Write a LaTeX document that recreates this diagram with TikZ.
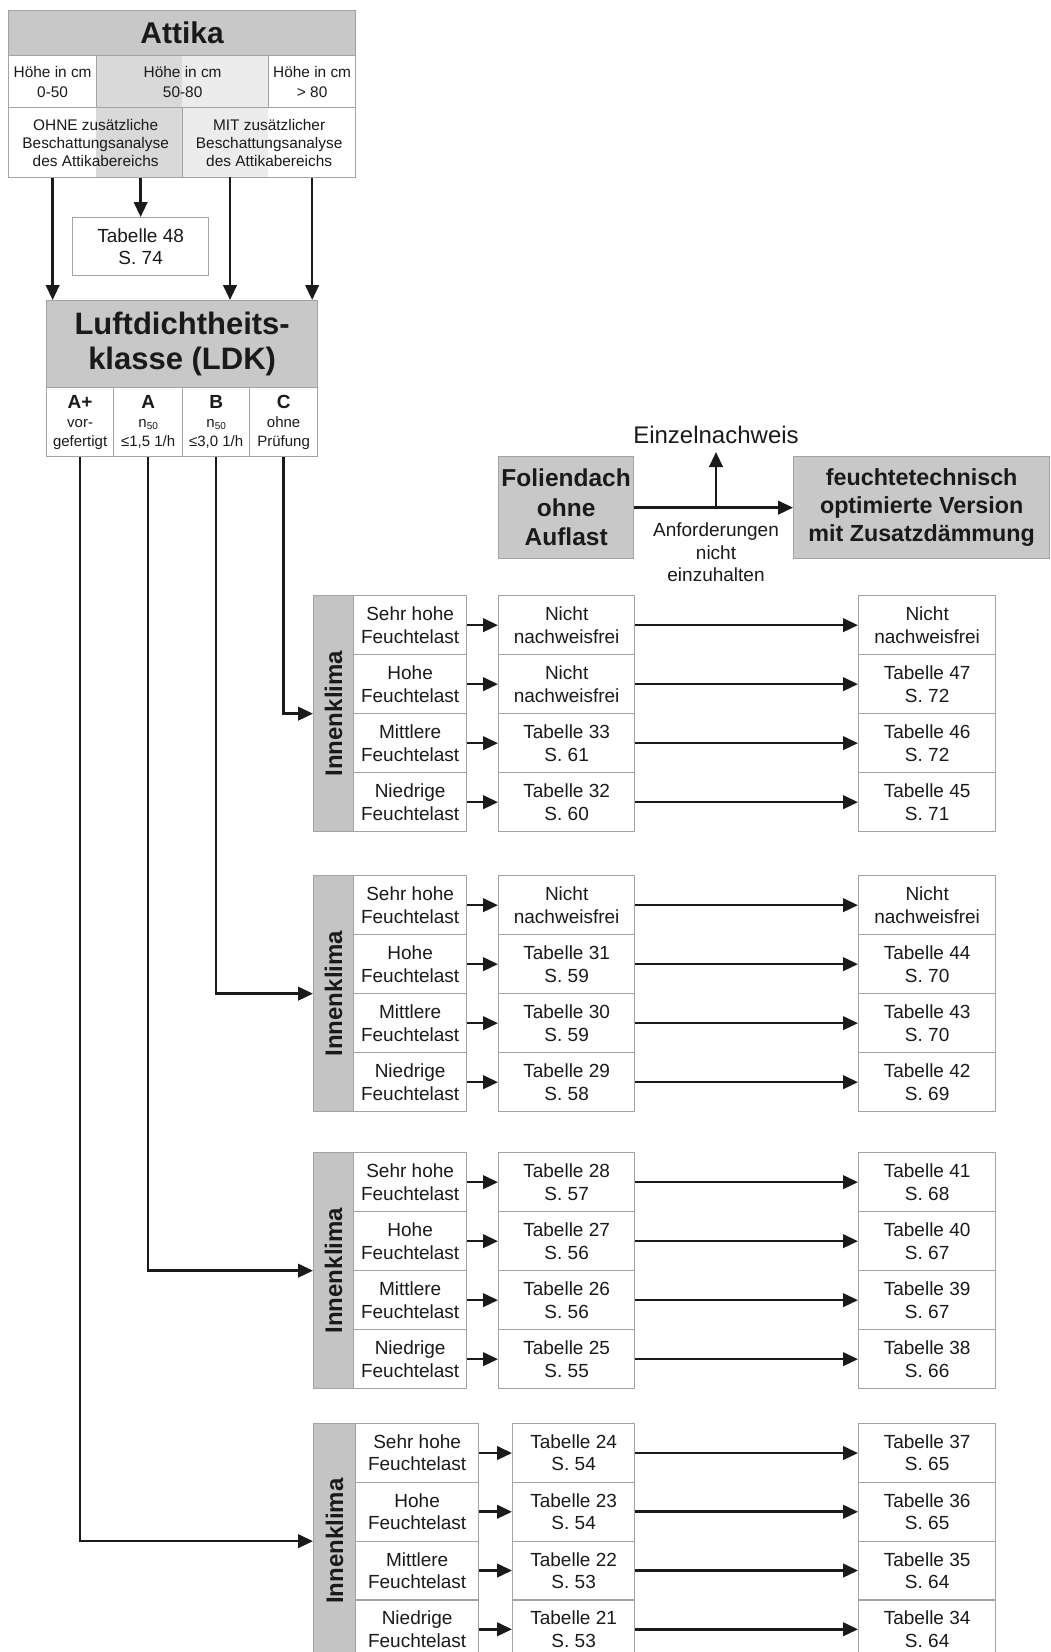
\documentclass[tikz,border=0pt]{standalone}
\usepackage{fontspec}
\setmainfont{Liberation Sans}
\usetikzlibrary{arrows.meta}
\definecolor{txt}{HTML}{1A1A1A}
\definecolor{bord}{HTML}{A3A3A3}
\definecolor{hdr}{HTML}{C8C8C8}
\definecolor{strp}{HTML}{C4C4C4}
\definecolor{banddark}{HTML}{D9D9D9}
\definecolor{bandlight}{HTML}{ECECEC}
\definecolor{arrc}{HTML}{1A1A1A}
\newcommand\fs[2]{\fontsize{#1}{#2}\selectfont}
\newcommand\nsub{n{\fs{10}{10}\raisebox{-2pt}{50}}}
\newcommand\irow[5]{%
  \node[cell, minimum width=\lw, minimum height=\rh] (#1l) at (\lx,#2) {#3};
  \node[cell, minimum width=\mw, minimum height=\rh] (#1m) at (\mx,#2) {#4};
  \node[cell, minimum width=137pt, minimum height=\rh] (#1r) at (858,#2) {#5};
  \draw[arr] (#1l) -- (#1m);
  \draw[arr] (#1m) -- (#1r);
}
\begin{document}
\begin{tikzpicture}[x=1pt,y=-1pt,
  cell/.style={draw=bord, line width=1.3pt, fill=white, inner sep=0pt, align=center,
    text=txt, font=\fs{19}{22.3}, anchor=north west},
  graybox/.style={cell, fill=hdr},
  strip/.style={cell, fill=strp},
  arr/.style={draw=arrc, line width=2.6pt, -{Triangle[length=15pt,width=13.5pt]}},
  lbl/.style={text=txt, inner sep=0pt, align=center}]
\useasboundingbox (0,0) rectangle (1051,1652);
\fill[white] (0,0) rectangle (1051,1652);
\clip (0,0) rectangle (1051,1652);

% ---------- Attika ----------
\fill[banddark] (96,55) rectangle (182,177);
\fill[bandlight] (182,55) rectangle (268,177);
\node[graybox, minimum width=347pt, minimum height=45pt, font=\bfseries\fs{30}{30}] (attika) at (8,10) {Attika};
\node[cell, fill=none, font=\fs{15.4}{20}, minimum width=88pt, minimum height=52pt] (h1) at (8,55) {Höhe in cm\\0-50};
\node[cell, fill=none, font=\fs{15.4}{20}, minimum width=172pt, minimum height=52pt] (h2) at (96,55) {Höhe in cm\\50-80};
\node[cell, fill=none, font=\fs{15.4}{20}, minimum width=87pt, minimum height=52pt] (h3) at (268,55) {Höhe in cm\\> 80};
\node[cell, fill=none, font=\fs{15.4}{18}, minimum width=174pt, minimum height=70pt] (ohne) at (8,107) {OHNE zusätzliche\\Beschattungsanalyse\\des Attikabereichs};
\node[cell, fill=none, font=\fs{15.4}{18}, minimum width=173pt, minimum height=70pt] (mit) at (182,107) {MIT zusätzlicher\\Beschattungsanalyse\\des Attikabereichs};
\node[cell, minimum width=136pt, minimum height=58pt] (tab48) at (72,217) {Tabelle 48\\S. 74};

% ---------- LDK ----------
\node[graybox, minimum width=271pt, minimum height=87pt, font=\bfseries\fs{31}{35}] (ldk) at (46,300) {Luftdichtheits-\\klasse (LDK)};
\node[cell, font=\fs{15}{19}, minimum width=67pt, minimum height=69pt] (ldkAp) at (46,387) {{\bfseries\fs{19}{19}A+}\\vor-\\gefertigt};
\node[cell, font=\fs{15}{19}, minimum width=69pt, minimum height=69pt] (ldkA) at (113,387) {{\bfseries\fs{19}{19}A}\\\nsub\\≤1,5 1/h};
\node[cell, font=\fs{15}{19}, minimum width=67pt, minimum height=69pt] (ldkB) at (182,387) {{\bfseries\fs{19}{19}B}\\\nsub\\≤3,0 1/h};
\node[cell, font=\fs{15}{19}, minimum width=68pt, minimum height=69pt] (ldkC) at (249,387) {{\bfseries\fs{19}{19}C}\\ohne\\Prüfung};

\coordinate (mitL) at (230,177);
\draw[arr] (h1.center |- ohne.south) -- (h1.center |- ldk.north);
\draw[arr] (tab48.north |- ohne.south) -- (tab48.north);
\draw[arr] (mitL) -- (mitL |- ldk.north);
\draw[arr] (h3.center |- mit.south) -- (h3.center |- ldk.north);

% ---------- Legend ----------
\node[graybox, minimum width=135pt, minimum height=102pt, font=\bfseries\fs{24.5}{29.5}] (fol) at (498,456) {Foliendach\\ohne\\Auflast};
\node[graybox, minimum width=256pt, minimum height=102pt, font=\bfseries\fs{23.3}{28}] (opt) at (793,456) {feuchtetechnisch\\optimierte Version\\mit Zusatzdämmung};
\node[lbl, anchor=south, inner ysep=8pt, font=\fs{24}{24}] (einzel) at (716,452) {Einzelnachweis};
\node[lbl, anchor=north, font=\fs{19}{22.5}] (anf) at (716,523) {Anforderungen\\nicht\\einzuhalten};
\draw[arr] (fol) -- (opt);
\draw[arr] (einzel.south |- fol.east) -- (einzel.south);

% ---------- Block 1 (C) ----------
\def\lx{353}\def\lw{113pt}\def\mx{498}\def\mw{136pt}\def\rh{59pt}
\node[strip, minimum width=40pt, minimum height=236pt] (s1) at (313,595) {};
\node[lbl, rotate=90, font=\bfseries\fs{24}{24}] (s1t) at (s1.center) {Innenklima};
\irow{a1}{595}{Sehr hohe\\Feuchtelast}{Nicht\\nachweisfrei}{Nicht\\nachweisfrei}
\irow{a2}{654}{Hohe\\Feuchtelast}{Nicht\\nachweisfrei}{Tabelle 47\\S. 72}
\irow{a3}{713}{Mittlere\\Feuchtelast}{Tabelle 33\\S. 61}{Tabelle 46\\S. 72}
\irow{a4}{772}{Niedrige\\Feuchtelast}{Tabelle 32\\S. 60}{Tabelle 45\\S. 71}

% ---------- Block 2 (B) ----------
\node[strip, minimum width=40pt, minimum height=236pt] (s2) at (313,875) {};
\node[lbl, rotate=90, font=\bfseries\fs{24}{24}] (s2t) at (s2.center) {Innenklima};
\irow{b1}{875}{Sehr hohe\\Feuchtelast}{Nicht\\nachweisfrei}{Nicht\\nachweisfrei}
\irow{b2}{934}{Hohe\\Feuchtelast}{Tabelle 31\\S. 59}{Tabelle 44\\S. 70}
\irow{b3}{993}{Mittlere\\Feuchtelast}{Tabelle 30\\S. 59}{Tabelle 43\\S. 70}
\irow{b4}{1052}{Niedrige\\Feuchtelast}{Tabelle 29\\S. 58}{Tabelle 42\\S. 69}

% ---------- Block 3 (A) ----------
\node[strip, minimum width=40pt, minimum height=236pt] (s3) at (313,1152) {};
\node[lbl, rotate=90, font=\bfseries\fs{24}{24}] (s3t) at (s3.center) {Innenklima};
\irow{c1}{1152}{Sehr hohe\\Feuchtelast}{Tabelle 28\\S. 57}{Tabelle 41\\S. 68}
\irow{c2}{1211}{Hohe\\Feuchtelast}{Tabelle 27\\S. 56}{Tabelle 40\\S. 67}
\irow{c3}{1270}{Mittlere\\Feuchtelast}{Tabelle 26\\S. 56}{Tabelle 39\\S. 67}
\irow{c4}{1329}{Niedrige\\Feuchtelast}{Tabelle 25\\S. 55}{Tabelle 38\\S. 66}

% ---------- Block 4 (A+) ----------
\def\lx{355}\def\lw{123pt}\def\mx{512}\def\mw{122pt}\def\rh{58.75pt}
\node[strip, minimum width=42pt, minimum height=235pt] (s4) at (313,1423) {};
\node[lbl, rotate=90, font=\bfseries\fs{24}{24}] (s4t) at (s4.center) {Innenklima};
\irow{d1}{1423}{Sehr hohe\\Feuchtelast}{Tabelle 24\\S. 54}{Tabelle 37\\S. 65}
\irow{d2}{1481.75}{Hohe\\Feuchtelast}{Tabelle 23\\S. 54}{Tabelle 36\\S. 65}
\irow{d3}{1540.5}{Mittlere\\Feuchtelast}{Tabelle 22\\S. 53}{Tabelle 35\\S. 64}
\irow{d4}{1599.25}{Niedrige\\Feuchtelast}{Tabelle 21\\S. 53}{Tabelle 34\\S. 64}

% ---------- LDK connectors ----------
\draw[arr] (ldkC.south) |- (s1);
\draw[arr] (ldkB.south) |- (s2);
\draw[arr] (ldkA.south) |- (s3);
\draw[arr] (ldkAp.south) |- (s4);
\end{tikzpicture}
\end{document}
